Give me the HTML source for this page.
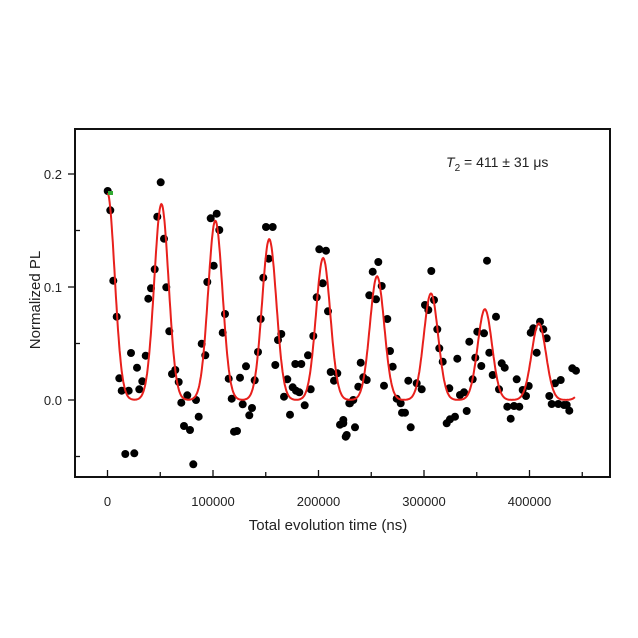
<!DOCTYPE html>
<html><head><meta charset="utf-8"><style>
html,body{margin:0;padding:0;background:#fff;width:638px;height:638px;overflow:hidden}
text{font-family:"Liberation Sans",sans-serif;fill:#222}
</style></head><body>
<svg id="s" width="638" height="638" viewBox="0 0 638 638" xmlns="http://www.w3.org/2000/svg">
<rect x="75" y="129" width="535" height="348" fill="none" stroke="#111" stroke-width="2"/>
<g stroke="#111" stroke-width="1.3">
<line x1="68" y1="174" x2="75" y2="174"/><line x1="68" y1="287" x2="75" y2="287"/><line x1="68" y1="400" x2="75" y2="400"/>
<line x1="75" y1="230.5" x2="80" y2="230.5"/><line x1="75" y1="343.5" x2="80" y2="343.5"/><line x1="75" y1="456.5" x2="80" y2="456.5"/>
<line x1="107.5" y1="477" x2="107.5" y2="470"/><line x1="213" y1="477" x2="213" y2="470"/><line x1="318.5" y1="477" x2="318.5" y2="470"/><line x1="424" y1="477" x2="424" y2="470"/><line x1="529.5" y1="477" x2="529.5" y2="470"/>
<line x1="160.25" y1="477" x2="160.25" y2="472"/><line x1="265.75" y1="477" x2="265.75" y2="472"/><line x1="371.25" y1="477" x2="371.25" y2="472"/><line x1="476.75" y1="477" x2="476.75" y2="472"/><line x1="582.25" y1="477" x2="582.25" y2="472"/>
</g>
<g font-size="13" text-anchor="end">
<text x="62" y="179">0.2</text><text x="62" y="292">0.1</text><text x="62" y="405">0.0</text>
</g>
<g font-size="13" text-anchor="middle">
<text x="107.5" y="506">0</text><text x="213" y="506">100000</text><text x="318.5" y="506">200000</text><text x="424" y="506">300000</text><text x="529.5" y="506">400000</text>
</g>
<text x="328" y="530" font-size="15" text-anchor="middle">Total evolution time (ns)</text>
<text x="0" y="0" font-size="15" text-anchor="middle" transform="translate(40,300) rotate(-90)">Normalized PL</text>
<text x="446" y="167" font-size="14"><tspan font-style="italic">T</tspan><tspan font-size="10" dy="4">2</tspan><tspan dy="-4">  = 411 ± 31 μs</tspan></text>
<g id="dots" fill="#000"></g>
<path id="fit" fill="none" stroke="#e8201c" stroke-width="2"/>
<rect x="108" y="191" width="5" height="4" fill="#3a3"/>
</svg>
<script>
var z3=[[83,63],[91,121],[100,332],[110,440],[118,625],[125,662],[146,662],[153,549],[171,593],[178,658],[187,634],[197,557],[205,386],[213,355],[224,298],[232,140],[242,37],[252,206],[259,352],[268,484],[276,612],[286,600],[296,636],[304,698],[312,768],[322,676],[330,780],[340,883],[348,690],[356,740],[136,852],[163,850],[365,521],[376,556],[382,336],[392,145],[401,287],[410,131],[418,180],[435,432],[428,488],[446,626],[455,686],[462,785],[471,783],[480,623],[488,703],[498,589],[508,736],[516,714],[524,631],[534,546],[542,447],[550,323],[558,171],[566,266],[578,171],[586,585],[594,510],[604,492],[612,680],[622,628],[630,734],[638,652],[648,662],[658,667],[646,582],[664,582],[674,706],[684,556],[692,658],[700,498],[710,382],[718,238],[728,340],[738,242],[744,424],[752,606],[762,632],[772,610],[780,764],[790,750],[797,800],[808,700]];
var z4=[[10,850],[20,885],[30,790],[40,780],[45,862],[55,740],[62,668],[70,712],[80,720],[88,466],[98,395],[108,478],[115,366],[125,438],[132,737],[142,537],[150,633],[158,680],[170,776],[182,790],[186,818],[195,818],[205,722],[212,862],[230,730],[245,748],[255,495],[265,510],[274,393],[282,480],[292,568],[298,625],[308,665],[328,745],[320,850],[330,838],[345,830],[352,656],[360,765],[372,757],[380,813],[388,605],[398,718],[406,653],[412,575],[424,678],[432,580],[441,362],[448,638],[458,705],[468,530],[477,748],[485,670],[494,683],[502,800],[512,836],[522,798],[530,718],[538,800],[548,750],[558,768],[566,738],[572,578],[580,565],[590,638],[600,545],[610,568],[620,595],[628,768],[635,792],[645,730],[655,792],[662,720],[672,795],[680,795],[688,812],[697,685],[708,692]];
var g=document.getElementById('dots'),h='';
z3.forEach(function(p){h+='<circle cx="'+(80+p[0]/3).toFixed(1)+'" cy="'+(170+p[1]/3).toFixed(1)+'" r="4"/>';});
z4.forEach(function(p){h+='<circle cx="'+(340+p[0]/3).toFixed(1)+'" cy="'+(140+p[1]/3).toFixed(1)+'" r="4"/>';});
g.innerHTML=h;
var d='',sg=6800,P=51100;
for(var t=0;t<=443000;t+=500){
 var v=0;for(var k=0;k<10;k++){var c=k*P;var hh=0.183*Math.exp(-Math.pow(c/411000,1.4));v+=hh*Math.exp(-(t-c)*(t-c)/(2*sg*sg));}
 var x=107.5+t*105.5/100000,y=400-v*1130;
 d+=(t?'L':'M')+x.toFixed(1)+' '+y.toFixed(1);
}
document.getElementById('fit').setAttribute('d',d);
</script>
</body></html>
